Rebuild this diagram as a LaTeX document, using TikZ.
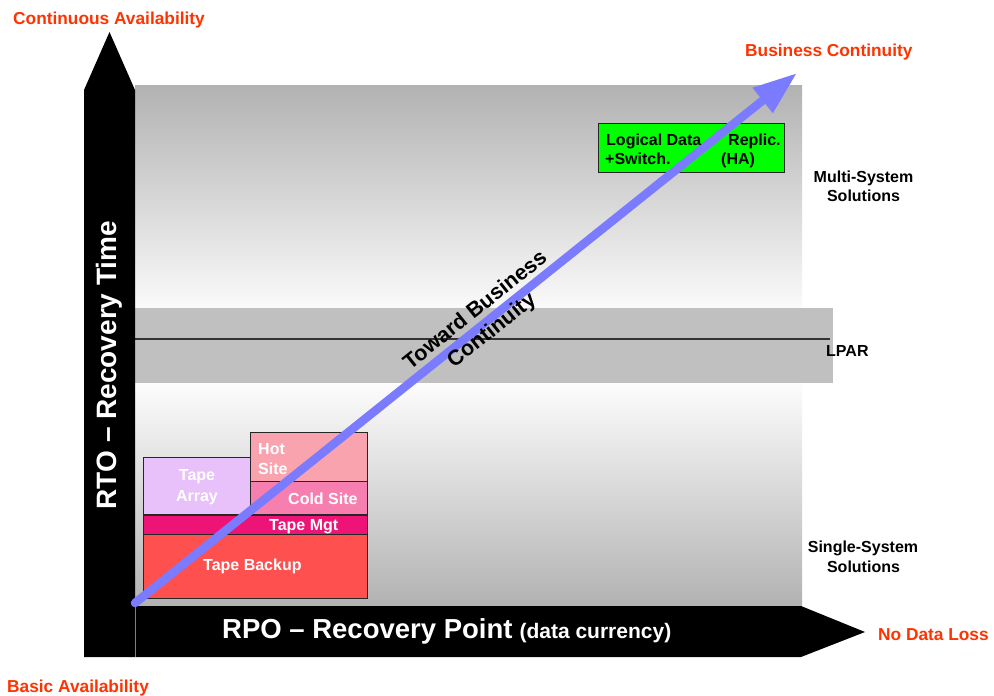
\documentclass[tikz,border=0pt]{standalone}
\usepackage{fontspec}
\setmainfont{Liberation Sans}
\usetikzlibrary{arrows.meta}
\definecolor{lblred}{HTML}{FF3300}
\definecolor{flowblue}{HTML}{7B7BFF}
\definecolor{upgray}{HTML}{B2B2B2}
\definecolor{lpargray}{HTML}{C0C0C0}
\definecolor{backupred}{HTML}{FF5050}
\definecolor{mgtpink}{HTML}{EE1477}
\definecolor{arraylav}{HTML}{E8C0FA}
\definecolor{hotpink}{HTML}{F9A3AE}
\definecolor{coldpink}{HTML}{F77FB0}
\definecolor{hagreen}{HTML}{00FF00}
\begin{document}
\begin{tikzpicture}[x=1pt,y=-1pt,
  redlbl/.style={text=lblred, font=\fontsize{17.3}{20}\selectfont\bfseries, inner sep=0pt, anchor=base west},
  sidelbl/.style={font=\fontsize{16}{19}\selectfont\bfseries, inner sep=0pt, anchor=base},
  boxtxt/.style={text=white, font=\fontsize{16}{19}\selectfont\bfseries, inner sep=0pt, anchor=base west},
  greentxt/.style={text=black, font=\fontsize{16}{19}\selectfont\bfseries, inner sep=0pt, anchor=base west},
  blk/.style={draw=black!85, line width=0.9pt, inner sep=0pt, anchor=north west},
  axistxt/.style={text=white, font=\bfseries, inner sep=0pt},
]
\useasboundingbox (0,0) rectangle (994,696);
\fill[white] (0,0) rectangle (994,696);
% background regions
\shade[top color=upgray, bottom color=white!98!black] (135,85) rectangle (802,308);
\fill[lpargray] (135,308) rectangle (833,383);
\shade[top color=white!99!black, bottom color=upgray] (135,383) rectangle (802,606);
\draw[line width=1.2pt, black!80] (135,339) -- (830,339);
% axes
\fill[black] (84,657) -- (84,90) -- (109.5,32) -- (135,90) -- (135,606) -- (801,606) -- (865,632) -- (801,657) -- cycle;
\draw[gray, line width=0.6pt] (135,606) -- (135,657);
% boxes
\node[blk, fill=backupred, minimum width=224pt, minimum height=64pt] (backup) at (143,534) {};
\node[blk, fill=mgtpink, minimum width=224pt, minimum height=19pt] (tapemgt) at (143,515) {};
\node[blk, fill=arraylav, minimum width=107pt, minimum height=57pt] (tapearray) at (143,457) {};
\node[blk, fill=hotpink, minimum width=117pt, minimum height=49pt] (hotsite) at (250,432) {};
\node[blk, fill=coldpink, minimum width=117pt, minimum height=33pt] (coldsite) at (250,481) {};
\node[blk, fill=hagreen, minimum width=186pt, minimum height=49pt] (green) at (598,123) {};
% arrow
\coordinate (astart) at (135,603);
\coordinate (atip) at (797,73);
\draw[flowblue, line width=8.5pt, line cap=round, -{Triangle[length=44pt,width=30pt]}] (astart) -- (atip);
% box texts
\node[boxtxt] (tbk) at (203,570.5) {Tape Backup};
\node[boxtxt] (tmg) at (269,530) {Tape Mgt};
\node[boxtxt, anchor=base] (tar1) at (197,480.5) {Tape};
\node[boxtxt, anchor=base] (tar2) at (197,501.5) {Array};
\node[boxtxt] (hs1) at (258,454.5) {Hot};
\node[boxtxt] (hs2) at (258,474) {Site};
\node[boxtxt] (cs) at (288,504) {Cold Site};
\node[greentxt] (g1) at (606,145) {Logical Data};
\node[greentxt] (g2) at (605,164) {+Switch.};
\node[greentxt] (g3) at (728,145) {Replic.};
\node[greentxt] (g4) at (721,164) {(HA)};
% toward text
\node[font=\fontsize{21.5}{26}\selectfont\bfseries, align=center, rotate=38.6, inner sep=0pt] (toward) at (484,321) {Toward Business\\Continuity};
% side labels
\node[sidelbl] (ms1) at (863.5,182.5) {Multi-System};
\node[sidelbl] (ms2) at (863.5,201.5) {Solutions};
\node[sidelbl, anchor=base west] (lpar) at (826,356) {LPAR};
\node[sidelbl] (ss1) at (863,552) {Single-System};
\node[sidelbl] (ss2) at (863.5,572) {Solutions};
% red labels
\node[redlbl] (contav) at (13,24) {Continuous Availability};
\node[redlbl] (buscont) at (745,56) {Business Continuity};
\node[redlbl] (nodata) at (878,640) {No Data Loss};
\node[redlbl] (basic) at (7,692) {Basic Availability};
% axis titles
\node[axistxt, rotate=90, anchor=base, font=\fontsize{28}{32}\selectfont\bfseries] (rto) at (116,365) {RTO – Recovery Time};
\node[axistxt, anchor=base west] (rpo) at (222,638) {{\fontsize{27.5}{30}\selectfont RPO – Recovery Point}\hspace{7pt}{\fontsize{21}{24}\selectfont(data currency)}};
\end{tikzpicture}
\end{document}
